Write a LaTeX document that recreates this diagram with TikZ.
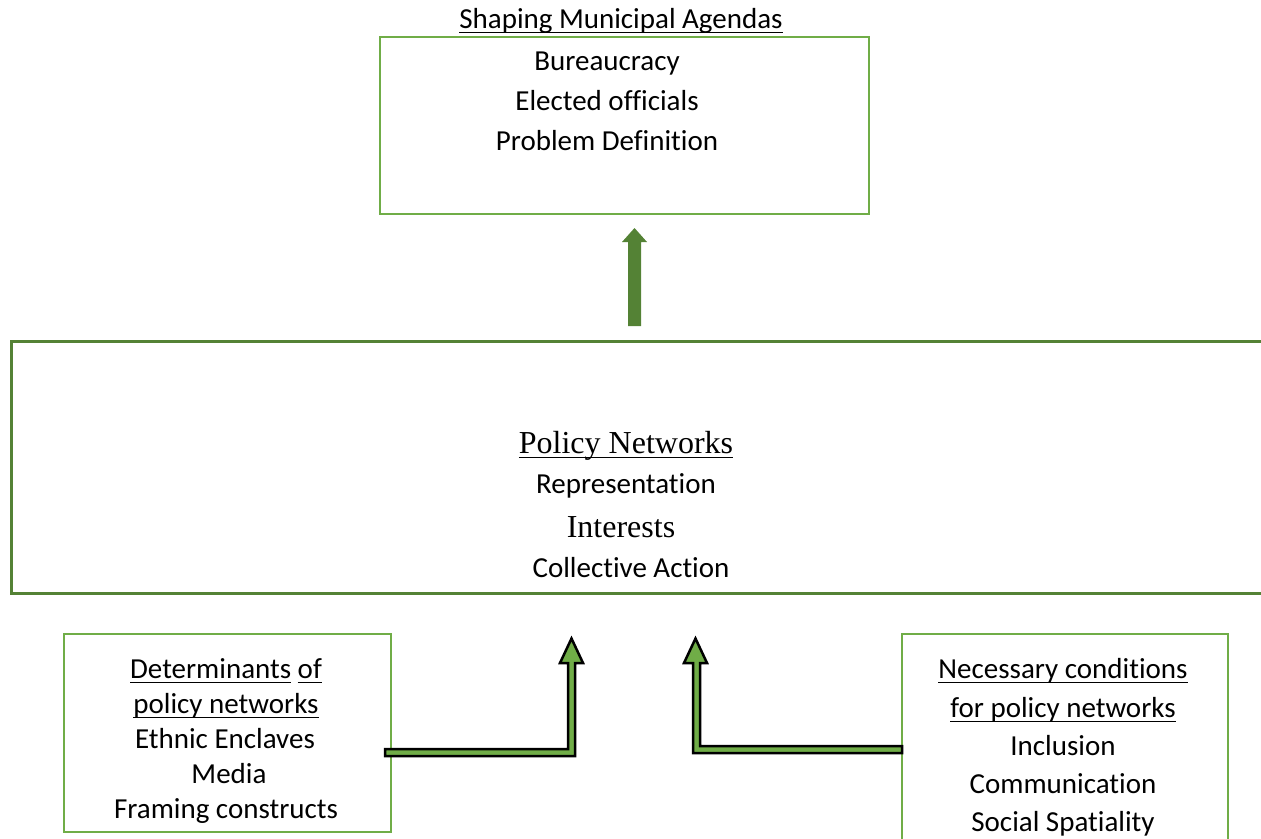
\documentclass[tikz,border=0pt]{standalone}
\usepackage{fontspec}
\setmainfont{Carlito}[Ligatures=NoCommon]
\newfontfamily\tnr{Liberation Serif}
\definecolor{lgreen}{HTML}{70AD47}
\definecolor{dgreen}{HTML}{548235}
\newcommand\ulx[1]{{\setbox0=\hbox{#1}\rlap{\rule[-5pt]{\wd0}{1.4pt}}\box0}}
\begin{document}
\begin{tikzpicture}[x=1pt,y=-1pt,
  box/.style={draw=lgreen, line width=2pt, inner sep=0pt, anchor=north west},
  bigbox/.style={draw=dgreen, line width=3.5pt, inner sep=0pt, anchor=north west},
  txt/.style={anchor=base, inner sep=0pt, font=\fontsize{29}{35}\selectfont},
  stxt/.style={anchor=base, inner sep=0pt, font=\fontsize{32}{38}\selectfont\tnr},
  bent/.style={fill=lgreen, draw=black, line width=2.5pt, line join=miter}]
\useasboundingbox (0,0) rectangle (1261,838);
\clip (0,0) rectangle (1261,838);

% boxes
\node[box, minimum width=489pt, minimum height=177pt] (top) at (379,36) {};
\node[bigbox, minimum width=1270pt, minimum height=252pt] (main) at (9.5,339.5) {};
\node[box, minimum width=327pt, minimum height=198pt] (left) at (63,633) {};
\node[box, minimum width=326pt, minimum height=230pt] (right) at (901,633) {};

% top texts
\node[txt] (t0) at (621,28) {\ulx{Shaping Municipal Agendas}};
\node[txt] (t1) at (607,70) {Bureaucracy};
\node[txt] (t2) at (607,110) {Elected officials};
\node[txt] (t3) at (607,150) {Problem Definition};

% main texts
\node[stxt] (m0) at (626,453) {\ulx{Policy Networks}};
\node[txt] (m1) at (626,493) {Representation};
\node[stxt] (m2) at (621,537) {Interests};
\node[txt] (m3) at (631,577) {Collective Action};

% left texts
\node[txt] (l0) at (226,678) {\ulx{Determinants} \ulx{of}};
\node[txt] (l1) at (226,713) {\ulx{policy networks}};
\node[txt] (l2) at (225,748) {Ethnic Enclaves};
\node[txt] (l3) at (229,783) {Media};
\node[txt] (l4) at (226,818) {Framing constructs};

% right texts
\node[txt] (r0) at (1063,678) {\ulx{Necessary conditions}};
\node[txt] (r1) at (1063,717) {\ulx{for policy networks}};
\node[txt] (r2) at (1063,755) {Inclusion};
\node[txt] (r3) at (1063,793) {Communication};
\node[txt] (r4) at (1063,831) {Social Spatiality};

% arrows
\fill[dgreen] (628,326) -- (628,242) -- (622,242) -- (634.5,228) -- (647,242) -- (641,242) -- (641,326) -- cycle;
\draw[bent] (385,749) -- (568,749) -- (568,663) -- (560,663) -- (571.5,638.5) -- (583,663) -- (575,663) -- (575,756) -- (385,756) -- cycle;
\draw[bent] (902,746) -- (700,746) -- (700,663) -- (707,663) -- (695.5,638.5) -- (684,663) -- (693,663) -- (693,753) -- (902,753) -- cycle;
\end{tikzpicture}
\end{document}
